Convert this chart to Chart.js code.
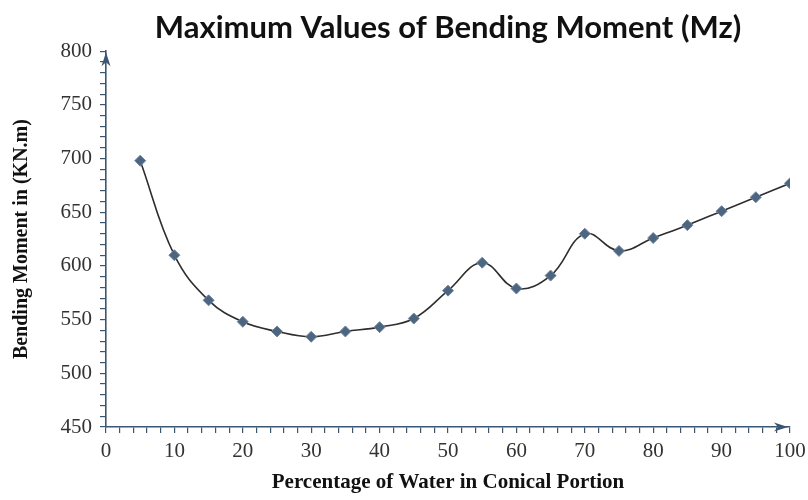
<!DOCTYPE html>
<html>
<head>
<meta charset="utf-8">
<script src="https://cdn.jsdelivr.net/npm/chart.js@4.4.1/dist/chart.umd.min.js"></script>
<style>
  html, body { margin: 0; padding: 0; background: #ffffff; }
  #wrap { width: 808px; height: 500px; position: relative; }
</style>
</head>
<body>
<div id="wrap"><canvas id="chart" width="808" height="500"></canvas></div>
<script>
// Percentage of water in the conical portion (x) and maximum bending moment Mz (y)
const waterPercent = [5, 10, 15, 20, 25, 30, 35, 40, 45, 50, 55, 60, 65, 70, 75, 80, 85, 90, 95, 100];
const bendingMoment = [698, 610, 568, 548, 539, 534, 539, 543, 551, 577, 603, 579, 591, 630, 614, 626, 638, 651, 664, 677];
const xTickLabels = [0, 10, 20, 30, 40, 50, 60, 70, 80, 90, 100];
const yTickLabels = [450, 500, 550, 600, 650, 700, 750, 800];

const AXIS_COLOR = '#3b5670';

// Arrowheads at the ends of both axes
const axisArrows = {
  id: 'axisArrows',
  afterDraw(chart) {
    const { ctx } = chart;
    const xs = chart.scales.x, ys = chart.scales.y;
    ctx.save();
    ctx.fillStyle = AXIS_COLOR;
    // up arrow on the value axis
    const ax = xs.left, ay = ys.getPixelForValue(800) + 1;
    ctx.beginPath();
    ctx.moveTo(ax, ay);
    ctx.lineTo(ax - 4.5, ay + 14);
    ctx.lineTo(ax, ay + 10);
    ctx.lineTo(ax + 4.5, ay + 14);
    ctx.closePath();
    ctx.fill();
    // right arrow on the horizontal axis
    const bx = xs.getPixelForValue(100) - 2, by = ys.bottom;
    ctx.beginPath();
    ctx.moveTo(bx, by);
    ctx.lineTo(bx - 14, by - 4.5);
    ctx.lineTo(bx - 10, by);
    ctx.lineTo(bx - 14, by + 4.5);
    ctx.closePath();
    ctx.fill();
    ctx.restore();
  }
};

new Chart(document.getElementById('chart'), {
  type: 'line',
  data: {
    datasets: [{
      data: waterPercent.map((x, i) => ({ x, y: bendingMoment[i] })),
      borderColor: '#2e2e2e',
      borderWidth: 1.6,
      tension: 0.4,
      pointStyle: 'rectRot',
      pointRadius: 5.5,
      pointBackgroundColor: '#4c6681',
      pointBorderColor: '#6f869d',
      pointBorderWidth: 1,
      fill: false
    }]
  },
  options: {
    responsive: false,
    animation: false,
    devicePixelRatio: 1,
    layout: { padding: { left: 0, right: 0, top: 0, bottom: 0 } },
    plugins: {
      legend: { display: false },
      tooltip: { enabled: false },
      title: {
        display: true,
        fullSize: false,
        text: 'Maximum Values of Bending Moment (Mz)',
        color: '#111111',
        font: { family: 'Lato', weight: '700', size: 31, lineHeight: 1.2 },
        padding: { top: 9, bottom: 5 }
      }
    },
    scales: {
      x: {
        type: 'linear',
        min: 0,
        max: 100,
        afterFit(scale) {
          scale.height = 73;
          scale.paddingRight = 18;
        },
        afterBuildTicks(scale) {
          const t = [];
          for (let v = 0; v <= 100; v += 2) t.push({ value: v });
          scale.ticks = t;
        },
        border: { display: true, color: AXIS_COLOR, width: 1.6 },
        grid: { display: true, drawOnChartArea: false, drawTicks: true, tickLength: 6, color: AXIS_COLOR, lineWidth: 1.2 },
        ticks: {
          autoSkip: false,
          maxRotation: 0,
          padding: 6,
          color: '#333333',
          font: { family: 'Liberation Serif', size: 21 },
          callback: v => (xTickLabels.includes(v) ? String(v) : '')
        },
        title: {
          display: true,
          text: 'Percentage of Water in Conical Portion',
          color: '#111111',
          font: { family: 'Liberation Serif', weight: 'bold', size: 21, lineHeight: 1.2 },
          padding: { top: 4, bottom: 5 }
        }
      },
      y: {
        type: 'linear',
        min: 450,
        max: 800,
        afterFit(scale) { scale.width = 106; },
        afterBuildTicks(scale) {
          const t = [];
          for (let v = 450; v <= 800; v += 10) t.push({ value: v });
          scale.ticks = t;
        },
        border: { display: true, color: AXIS_COLOR, width: 1.6 },
        grid: { display: true, drawOnChartArea: false, drawTicks: true, tickLength: 6, color: AXIS_COLOR, lineWidth: 1.2 },
        ticks: {
          autoSkip: false,
          padding: 8,
          color: '#333333',
          font: { family: 'Liberation Serif', size: 21 },
          callback: v => (yTickLabels.includes(v) ? String(v) : '')
        },
        title: {
          display: true,
          text: 'Bending Moment in (KN.m)',
          color: '#111111',
          font: { family: 'Liberation Serif', weight: 'bold', size: 20, lineHeight: 1.2 },
          padding: { top: 10, bottom: 4 }
        }
      }
    }
  },
  plugins: [axisArrows]
});
</script>
</body>
</html>
